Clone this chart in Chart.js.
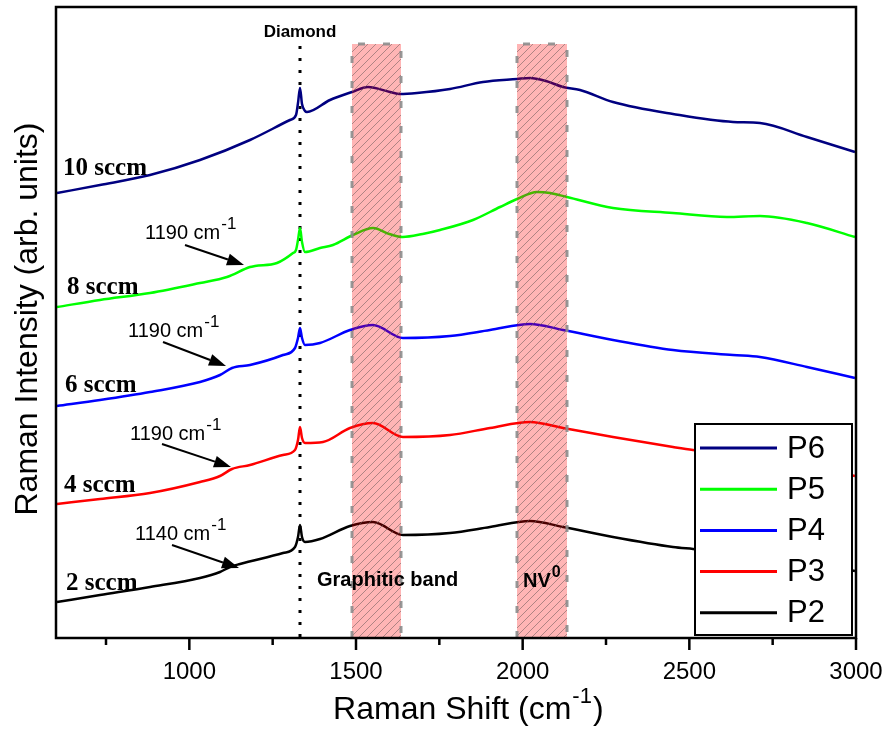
<!DOCTYPE html>
<html>
<head>
<meta charset="utf-8">
<script src="https://cdn.jsdelivr.net/npm/chart.js@4.4.1/dist/chart.umd.min.js"></script>
<style>
  html, body { margin: 0; padding: 0; background: #fff; }
</style>
</head>
<body>
<canvas id="raman" width="889" height="730"></canvas>
<script>
// Raman spectra (intensity in arbitrary units, stacked offsets)
const seriesNames = ['P6', 'P5', 'P4', 'P3', 'P2'];
const seriesColors = ['#000080', '#00ff00', '#0000ff', '#ff0000', '#000000'];
const flowLabels = ['10 sccm', '8 sccm', '6 sccm', '4 sccm', '2 sccm'];
const shoulderLabels = ['1190', '1190', '1190', '1140'];
const xTickLabels = [1000, 1500, 2000, 2500, 3000];

const shiftP6 = [603, 732, 882, 1032, 1182, 1302, 1320, 1326, 1332, 1338, 1347, 1353, 1422, 1488, 1536, 1602, 1632, 1683, 1782, 1881, 1983, 2022, 2070, 2121, 2172, 2271, 2451, 2631, 2712, 2853, 2997];
const intP6   = [445, 453, 463, 478, 498, 518, 523, 535, 550, 534, 527, 526, 538, 546, 551, 546, 544, 545, 549, 556, 559, 560, 557, 551, 548, 536, 524, 516, 515, 501, 486];

const shiftP5 = [603, 732, 882, 1032, 1113, 1182, 1197, 1263, 1311, 1320, 1326, 1332, 1338, 1347, 1392, 1431, 1491, 1551, 1600, 1640, 1700, 1752, 1851, 1932, 1983, 2043, 2082, 2133, 2271, 2451, 2613, 2712, 2853, 2997];
const intP5   = [331, 338, 345, 355, 361, 371, 372, 375, 385, 388, 398, 410, 396, 386, 390, 393, 403, 410, 404, 401, 404, 408, 418, 431, 439, 446, 445, 441, 430, 425, 421, 422, 415, 401];

const shiftP4 = [603, 732, 882, 1032, 1092, 1128, 1182, 1281, 1317, 1326, 1332, 1338, 1347, 1392, 1482, 1551, 1641, 1782, 1902, 2022, 2121, 2271, 2451, 2631, 2712, 2853, 2997];
const intP4   = [232, 238, 246, 256, 263, 270, 273, 283, 290, 300, 310, 300, 293, 295, 308, 313, 300, 302, 308, 314, 308, 298, 288, 283, 281, 271, 260];

const shiftP3 = [603, 732, 882, 1032, 1092, 1128, 1182, 1281, 1317, 1326, 1332, 1338, 1347, 1401, 1482, 1551, 1641, 1782, 1902, 2022, 2121, 2271, 2451, 2511, 2712, 2853, 2997];
const intP3   = [134, 139, 145, 156, 162, 169, 173, 183, 188, 198, 211, 200, 195, 196, 210, 215, 201, 203, 210, 216, 210, 201, 191, 188, 181, 172, 162];

const shiftP2 = [603, 732, 882, 1032, 1092, 1122, 1152, 1281, 1317, 1326, 1332, 1338, 1347, 1392, 1482, 1551, 1641, 1782, 1902, 2022, 2121, 2271, 2451, 2511, 2712, 2853, 2997];
const intP2   = [36, 43, 51, 60, 66, 71, 74, 85, 91, 101, 113, 101, 96, 99, 112, 116, 103, 105, 111, 117, 111, 101, 91, 89, 82, 75, 67];

const shifts = [shiftP6, shiftP5, shiftP4, shiftP3, shiftP2];
const intensities = [intP6, intP5, intP4, intP3, intP2];

// shaded regions and the diamond line, in cm-1
const graphiticBand = [1488, 1635];
const nvBand = [1983, 2133];
const diamondShift = 1332;

const datasets = seriesNames.map((name, i) => ({
  label: name,
  data: shifts[i].map((x, j) => ({ x: x, y: intensities[i][j] })),
  borderColor: seriesColors[i],
  borderWidth: 2.5,
  pointRadius: 0,
  cubicInterpolationMode: 'monotone',
  fill: false,
}));

const SANS = '"Liberation Sans", Arial, sans-serif';
const SERIF = '"Liberation Serif", "Times New Roman", serif';

// text with a superscript tail, e.g. cm^-1; returns x after the superscript
function supText(ctx, x, y, main, sup, size, bold, align, ratio) {
  const w = bold ? 'bold ' : '';
  const ss = Math.round(size * (ratio || 0.8));
  ctx.font = w + size + 'px ' + SANS;
  const mw = ctx.measureText(main).width;
  ctx.font = w + ss + 'px ' + SANS;
  const sw = ctx.measureText(sup).width;
  let x0 = x;
  if (align === 'center') x0 = x - (mw + sw) / 2;
  ctx.textAlign = 'left';
  ctx.textBaseline = 'alphabetic';
  ctx.font = w + size + 'px ' + SANS;
  ctx.fillText(main, x0, y);
  ctx.font = w + ss + 'px ' + SANS;
  ctx.fillText(sup, x0 + mw + 1, y - size * 0.5);
  return x0 + mw + sw + 1;
}

function arrow(ctx, x1, y1, x2, y2) {
  const a = Math.atan2(y2 - y1, x2 - x1);
  const hl = 17, hw = 6;
  ctx.beginPath();
  ctx.moveTo(x1, y1);
  ctx.lineTo(x2 - hl * Math.cos(a), y2 - hl * Math.sin(a));
  ctx.lineWidth = 2;
  ctx.strokeStyle = '#000';
  ctx.stroke();
  ctx.beginPath();
  ctx.moveTo(x2, y2);
  ctx.lineTo(x2 - hl * Math.cos(a) + hw * Math.sin(a), y2 - hl * Math.sin(a) - hw * Math.cos(a));
  ctx.lineTo(x2 - hl * Math.cos(a) - hw * Math.sin(a), y2 - hl * Math.sin(a) + hw * Math.cos(a));
  ctx.closePath();
  ctx.fillStyle = '#000';
  ctx.fill();
}

const decorations = {
  id: 'decorations',
  beforeDatasetsDraw(chart) {
    const { ctx, chartArea, scales } = chart;
    // dotted diamond line
    const dx = scales.x.getPixelForValue(diamondShift);
    ctx.save();
    ctx.strokeStyle = '#000';
    ctx.lineWidth = 3;
    ctx.setLineDash([3, 9]);
    ctx.beginPath();
    ctx.moveTo(dx, scales.y.getPixelForValue(592));
    ctx.lineTo(dx, chartArea.bottom);
    ctx.stroke();
    ctx.restore();
  },
  afterDatasetsDraw(chart) {
    const { ctx, chartArea, scales } = chart;
    const X = v => scales.x.getPixelForValue(v);
    const Y = v => scales.y.getPixelForValue(v);
    ctx.save();

    // hatched bands
    [graphiticBand, nvBand].forEach(b => {
      const l = X(b[0]), r = X(b[1]), t = Y(594), btm = chartArea.bottom;
      ctx.fillStyle = 'rgba(255, 0, 0, 0.29)';
      ctx.fillRect(l, t, r - l, btm - t);
      ctx.save();
      ctx.beginPath();
      ctx.rect(l, t, r - l, btm - t);
      ctx.clip();
      ctx.strokeStyle = 'rgba(110, 90, 90, 0.55)';
      ctx.lineWidth = 1;
      for (let k = -(btm - t); k < r - l + 10; k += 8) {
        ctx.beginPath();
        ctx.moveTo(l + k, btm);
        ctx.lineTo(l + k + (btm - t), t);
        ctx.stroke();
      }
      ctx.restore();
      ctx.strokeStyle = 'rgba(140, 140, 140, 0.9)';
      ctx.lineWidth = 3;
      ctx.setLineDash([7, 18]);
      ctx.beginPath();
      ctx.moveTo(l, btm);
      ctx.lineTo(l, t);
      ctx.lineTo(r, t);
      ctx.lineTo(r, btm);
      ctx.stroke();
      ctx.setLineDash([]);
    });

    // labels
    ctx.fillStyle = '#000';
    ctx.textAlign = 'center';
    ctx.textBaseline = 'alphabetic';
    ctx.font = 'bold 17px ' + SANS;
    ctx.fillText('Diamond', X(diamondShift), 37);

    ctx.textAlign = 'left';
    ctx.font = 'bold 20px ' + SANS;
    ctx.fillText('Graphitic band', X(1383), Y(52));
    supText(ctx, X(2001), Y(51), 'NV', '0', 20, true, 'left', 0.8);

    const flowPos = [[621, 463], [633, 344], [627, 246], [624, 146], [630, 48]];
    ctx.font = 'bold 25px ' + SERIF;
    flowLabels.forEach((t, i) => {
      ctx.textAlign = 'left';
      ctx.fillText(t, X(flowPos[i][0]), Y(flowPos[i][1]));
    });

    const shoulderPos = [
      { tx: 867, ty: 399, a: [987, 393, 1164, 373] },
      { tx: 816, ty: 301, a: [921, 296, 1110, 272] },
      { tx: 822, ty: 198, a: [918, 194, 1125, 171] },
      { tx: 837, ty: 98,  a: [948, 93, 1149, 70] },
    ];
    shoulderLabels.forEach((t, i) => {
      const p = shoulderPos[i];
      ctx.fillStyle = '#000';
      supText(ctx, X(p.tx), Y(p.ty), t + ' cm', '-1', 20, false, 'left', 0.85);
      arrow(ctx, X(p.a[0]), Y(p.a[1]), X(p.a[2]), Y(p.a[3]));
    });

    // legend box
    const lx = chartArea.right - 161, ly = chartArea.bottom - 214;
    const lw = 157, lh = 211;
    ctx.fillStyle = '#fff';
    ctx.fillRect(lx, ly, lw, lh);
    ctx.strokeStyle = '#000';
    ctx.lineWidth = 2;
    ctx.strokeRect(lx, ly, lw, lh);
    chart.data.datasets.forEach((ds, i) => {
      const yy = ly + 24 + i * 41.2;
      ctx.beginPath();
      ctx.moveTo(lx + 5, yy);
      ctx.lineTo(lx + 82, yy);
      ctx.strokeStyle = ds.borderColor;
      ctx.lineWidth = 3;
      ctx.stroke();
      ctx.fillStyle = '#000';
      ctx.font = '31px ' + SANS;
      ctx.textAlign = 'left';
      ctx.textBaseline = 'middle';
      ctx.fillText(ds.label, lx + 92, yy + 1);
    });

    // frame and x ticks
    ctx.strokeStyle = '#000';
    ctx.lineWidth = 2.5;
    ctx.strokeRect(chartArea.left, chartArea.top, chartArea.right - chartArea.left, chartArea.bottom - chartArea.top);
    for (let v = 750; v <= 3000; v += 250) {
      const px = X(v);
      const len = v % 500 === 0 ? 12 : 7;
      ctx.beginPath();
      ctx.moveTo(px, chartArea.bottom);
      ctx.lineTo(px, chartArea.bottom + len);
      ctx.stroke();
    }

    // axis titles
    ctx.fillStyle = '#000';
    const endX = supText(ctx, 462, 719, 'Raman Shift (cm', '-1', 32, false, 'center', 0.7);
    ctx.font = '32px ' + SANS;
    ctx.textAlign = 'left';
    ctx.textBaseline = 'alphabetic';
    ctx.fillText(')', endX + 1, 719);

    ctx.save();
    ctx.translate(37, 319);
    ctx.rotate(-Math.PI / 2);
    ctx.textAlign = 'center';
    ctx.textBaseline = 'alphabetic';
    ctx.font = '32px ' + SANS;
    ctx.fillText('Raman Intensity (arb. units)', 0, 0);
    ctx.restore();

    ctx.restore();
  }
};

new Chart(document.getElementById('raman').getContext('2d'), {
  type: 'line',
  data: { datasets },
  options: {
    responsive: false,
    animation: false,
    devicePixelRatio: 1,
    layout: { padding: { left: 56, right: 33, top: 7, bottom: 0 } },
    plugins: {
      legend: { display: false },
      tooltip: { enabled: false },
    },
    scales: {
      x: {
        type: 'linear',
        min: 600,
        max: 3000,
        afterFit: s => { s.height = 92; s.paddingLeft = 0; s.paddingRight = 0; },
        grid: { display: false },
        border: { display: false },
        ticks: {
          stepSize: 250,
          padding: 12,
          color: '#000',
          font: { family: SANS, size: 24 },
          maxRotation: 0,
          autoSkip: false,
          callback: v => (xTickLabels.includes(v) ? String(v) : ''),
        },
      },
      y: {
        display: false,
        min: 0,
        max: 631,
      },
    },
  },
  plugins: [decorations],
});
</script>
</body>
</html>
